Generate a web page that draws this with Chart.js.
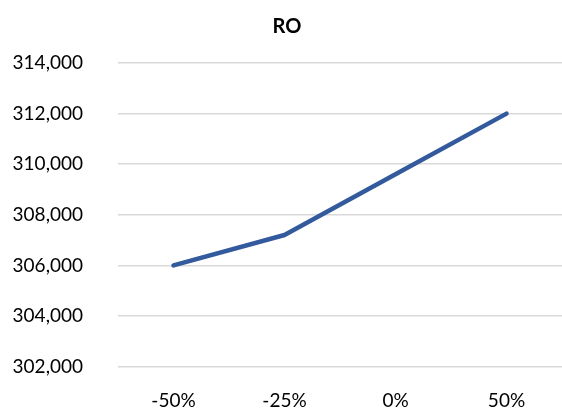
<!DOCTYPE html>
<html>
<head>
<meta charset="utf-8">
<script src="https://cdn.jsdelivr.net/npm/chart.js@4"></script>
<style>
  html, body { margin: 0; padding: 0; background: #ffffff; }
  #wrap { width: 562px; height: 413px; }
</style>
</head>
<body>
<div id="wrap"><canvas id="c" width="562" height="413"></canvas></div>
<script>
// Sensitivity scenarios and resulting RO values
const categories = ['-50%', '-25%', '0%', '50%'];
const roValues = [306000, 307200, 309600, 312000];
const yTicks = { min: 302000, max: 314000, step: 2000 };

const fontFamily = 'Lato, "Open Sans", sans-serif';

new Chart(document.getElementById('c'), {
  type: 'line',
  data: {
    labels: categories,
    datasets: [{
      label: 'RO',
      data: roValues,
      borderColor: '#335a9c',
      borderWidth: 4.5,
      pointRadius: 0,
      tension: 0,
      fill: false,
      borderCapStyle: 'round',
      borderJoinStyle: 'round'
    }]
  },
  options: {
    responsive: false,
    animation: false,
    layout: { padding: { left: 8, right: -4, top: 8, bottom: 0 } },
    plugins: {
      legend: { display: false },
      tooltip: { enabled: false },
      title: {
        display: true,
        text: 'RO',
        color: '#000000',
        font: { family: fontFamily, size: 20, weight: 'bold' },
        padding: { top: 7, bottom: 24 }
      }
    },
    scales: {
      x: {
        offset: true,
        grid: { display: false, drawTicks: false },
        border: { display: false },
        afterFit: (s) => { s.height = 42; },
        ticks: {
          color: '#000000',
          font: { family: fontFamily, size: 19 },
          padding: 23,
          maxRotation: 0
        }
      },
      y: {
        min: yTicks.min,
        max: yTicks.max,
        grid: { color: '#d9d9d9', lineWidth: 1.5, drawTicks: false },
        border: { display: false },
        afterFit: (s) => { s.width = 110; },
        ticks: {
          stepSize: yTicks.step,
          color: '#000000',
          font: { family: fontFamily, size: 19 },
          padding: 35,
          callback: (v) => v.toLocaleString('en-US')
        }
      }
    }
  }
});
</script>
</body>
</html>
